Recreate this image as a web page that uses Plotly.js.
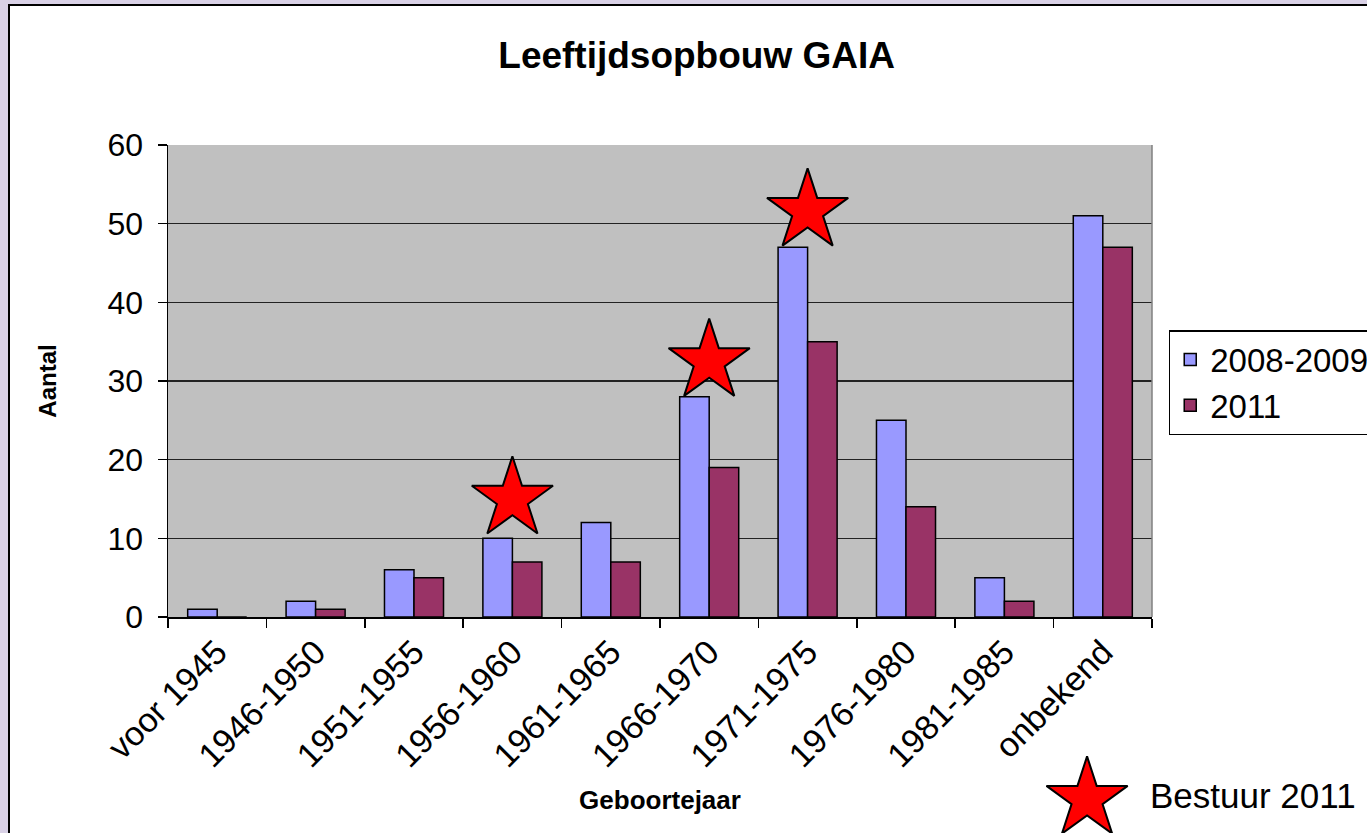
<!DOCTYPE html>
<html>
<head>
<meta charset="utf-8">
<script src="https://cdn.plot.ly/plotly-3.0.1.min.js"></script>
<style>
  html, body { margin: 0; padding: 0; width: 1367px; height: 833px; overflow: hidden; background: #d9d1e6; }
  #frame { position: absolute; left: 8px; top: 4px; width: 1357px; height: 827px;
           background: #ffffff; border-left: 2px solid #000; border-top: 2px solid #000; }
  #chart { width: 1357px; height: 827px; }
</style>
</head>
<body>
<div id="frame"><div id="chart"></div></div>
<script>
// ---- data ----
var categories = ['voor 1945', '1946-1950', '1951-1955', '1956-1960', '1961-1965',
                  '1966-1970', '1971-1975', '1976-1980', '1981-1985', 'onbekend'];
var values20082009 = [1, 2, 6, 10, 12, 28, 47, 25, 5, 51];
var values2011 = [0, 1, 5, 7, 7, 19, 35, 14, 2, 47];
var seriesNames = ['2008-2009', '2011'];
var starCategories = ['1956-1960', '1966-1970', '1971-1975'];
var starValues = [15, 32.5, 51.6];
var starLegendText = 'Bestuur 2011';
var yTickValues = [0, 10, 20, 30, 40, 50, 60];

var font = 'Liberation Sans, Arial, sans-serif';
var starMarker = { symbol: 'star', size: 61, color: '#ff0000', line: { color: '#000000', width: 2 } };

var traces = [
  {
    type: 'bar', name: seriesNames[0], x: categories, y: values20082009,
    marker: { color: '#9999ff', line: { color: '#000000', width: 1.5 } }
  },
  {
    type: 'bar', name: seriesNames[1], x: categories, y: values2011,
    marker: { color: '#993366', line: { color: '#000000', width: 1.5 } }
  },
  {
    type: 'scatter', mode: 'markers', name: starLegendText, showlegend: false,
    x: starCategories, y: starValues, cliponaxis: false,
    marker: starMarker, hoverinfo: 'x+y'
  },
  {
    // key star next to the "Bestuur 2011" note, in a small helper subplot below the chart
    type: 'scatter', mode: 'markers', name: starLegendText, showlegend: false,
    xaxis: 'x2', yaxis: 'y2', x: [0.934], y: [0.157], cliponaxis: false,
    marker: starMarker, hoverinfo: 'name'
  }
];

var mainBottom = 216 / 688;

var layout = {
  width: 1357, height: 827,
  margin: { l: 158, r: 215, t: 139, b: 0, pad: 0, autoexpand: false },
  paper_bgcolor: 'rgba(0,0,0,0)',
  plot_bgcolor: 'rgba(0,0,0,0)',
  font: { family: font, color: '#000000', size: 30 },
  title: {
    text: 'Leeftijdsopbouw GAIA',
    font: { family: font, size: 37, color: '#000000', weight: 'bold' },
    x: 0.506, xanchor: 'center', y: 0.941, yanchor: 'middle', xref: 'container', yref: 'container'
  },
  barmode: 'group', bargap: 0.4, bargroupgap: 0,
  showlegend: true,
  legend: {
    x: 1.017, xanchor: 'left', y: (827 - 324) / 688, yanchor: 'top',
    bgcolor: '#ffffff', bordercolor: '#000000', borderwidth: 1.5,
    font: { family: font, size: 33, color: '#000000' },
    tracegroupgap: 0
  },
  xaxis: {
    type: 'category', categoryorder: 'array', categoryarray: categories,
    anchor: 'y', domain: [0, 1],
    tickangle: -45, tickson: 'boundaries', ticks: 'outside', ticklen: 9, tickwidth: 1.5, tickcolor: '#000000',
    showline: true, linecolor: '#000000', linewidth: 1.5,
    showgrid: false, automargin: false,
    tickfont: { family: font, size: 34, color: '#000000' },
    title: { text: 'Geboortejaar', font: { family: font, size: 26, weight: 'bold', color: '#000000' }, standoff: 17 }
  },
  yaxis: {
    domain: [mainBottom, 1], anchor: 'x',
    range: [0, 60], tickvals: yTickValues, ticks: 'outside', ticklen: 9, tickwidth: 1.5, tickcolor: '#000000',
    ticklabelstandoff: 8,
    showline: true, linecolor: '#000000', linewidth: 1.5,
    showgrid: true, gridcolor: '#222222', gridwidth: 1.5,
    zeroline: false, automargin: false,
    tickfont: { family: font, size: 32, color: '#000000' },
    title: { text: 'Aantal', font: { family: font, size: 24, weight: 'bold', color: '#000000' }, standoff: 44 }
  },
  xaxis2: { domain: [0, 1], range: [0, 1], anchor: 'y2', visible: false, fixedrange: true },
  yaxis2: { domain: [0, mainBottom], range: [0, 1], anchor: 'x2', visible: false, fixedrange: true },
  shapes: [
    { type: 'rect', xref: 'x domain', yref: 'y domain', x0: 0, x1: 1, y0: 0, y1: 1,
      fillcolor: '#c0c0c0', line: { width: 0 }, layer: 'below' },
    { type: 'line', xref: 'x domain', yref: 'y domain', x0: 1, x1: 1, y0: 0, y1: 1,
      line: { color: '#808080', width: 1.5 } }
  ],
  annotations: [
    { text: starLegendText, xref: 'paper', yref: 'paper', x: 0.996, y: (827 - 789) / 688,
      xanchor: 'left', yanchor: 'middle', showarrow: false,
      font: { family: font, size: 35, color: '#000000' } }
  ]
};

Plotly.newPlot('chart', traces, layout, { displayModeBar: false, staticPlot: true });
</script>
</body>
</html>
